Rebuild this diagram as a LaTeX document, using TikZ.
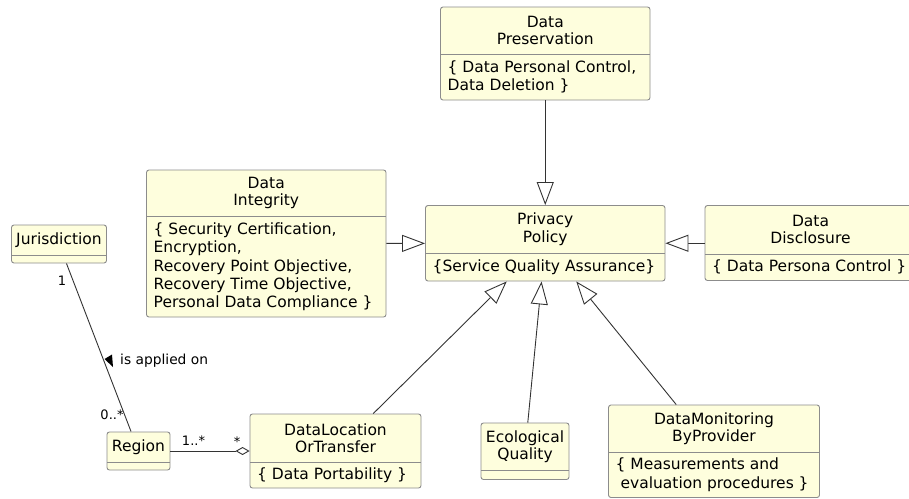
\documentclass[tikz,border=0pt]{standalone}
\usepackage{fontspec}
\setmainfont{DejaVu Sans}
\usepackage{tikz}
\usetikzlibrary{arrows.meta,fit}

\definecolor{classfill}{HTML}{FEFEDD}
\definecolor{classline}{HTML}{8C8C8C}
\definecolor{linkline}{HTML}{333333}

% #1 name, #2 left, #3 top, #4 right, #5 separator, #6 bottom, #7 title, #8 attributes
\newcommand{\umlclass}[8]{%
  \node[classbox, fit={(#2,#3) (#4,#6)}] (#1) {};
  \draw[sepline] (#2,#5) -- (#4,#5);
  \node[titletext] (#1-title) at ({(#2+#4)/2},{(#3+#5)/2}) {#7};
  \node[attrtext] (#1-attr) at ({#2+7},{(#5+#6)/2}) {#8};
}

\begin{document}
\begin{tikzpicture}[x=1pt, y=-1pt,
  classbox/.style={draw=classline, fill=classfill, rounded corners=2.5pt, inner sep=0pt, line width=0.9pt},
  sepline/.style={draw=classline, line width=0.9pt},
  titletext/.style={inner sep=0pt, align=center, font=\fontsize{15.5}{17.3}\selectfont},
  attrtext/.style={inner sep=0pt, anchor=west, align=left, font=\fontsize{15.5}{18.3}\selectfont},
  gen/.style={draw=linkline, line width=0.9pt, -{Triangle[fill=white, length=23pt, width=17pt]}},
  assoc/.style={draw=linkline, line width=0.9pt},
  agg/.style={draw=linkline, line width=0.9pt, -{Diamond[fill=white, length=14pt, width=8pt]}},
  mult/.style={inner sep=0pt, font=\fontsize{13}{15}\selectfont}
]
\useasboundingbox (0,0) rectangle (909,498);

% classes
\umlclass{pres}{440.5}{7}{650}{54}{100}{Data\\Preservation}{\{ Data Personal Control,\\Data Deletion \}}
\umlclass{priv}{425.5}{205.5}{665}{253}{281}{Privacy\\Policy}{\{Service Quality Assurance\}}
\umlclass{integ}{146.5}{170}{386}{216.5}{317}{Data\\Integrity}{\{ Security Certification,\\Encryption,\\Recovery Point Objective,\\Recovery Time Objective,\\Personal Data Compliance \}}
\umlclass{discl}{705}{205.5}{916}{254}{280.5}{Data\\Disclosure}{\{ Data Persona Control \}}
\umlclass{juris}{11.5}{225}{106.5}{255}{263}{Jurisdiction}{}
\umlclass{region}{107}{432}{170}{462}{470}{Region}{}
\umlclass{loc}{250}{414}{421}{462}{488}{DataLocation\\OrTransfer}{\{ Data Portability \}}
\umlclass{eco}{481}{423}{569}{470}{479.5}{Ecological\\Quality}{}
\umlclass{monit}{608.5}{405}{819.5}{452}{497.5}{DataMonitoring\\ByProvider}{\{ Measurements and\\\ evaluation procedures \}}

% generalisations
\draw[gen] (pres) -- (priv);
\draw[gen] (integ) -- (priv);
\draw[gen] (discl.west |- priv.east) -- (priv);
\draw[gen] (loc) -- (priv);
\draw[gen] (eco) -- (priv);
\draw[gen] (monit) -- (priv);

% associations
\draw[assoc] (juris) -- (region);
\draw[agg] (region) -- (loc);

% labels
\node[mult] (m1) at (62,281) {1};
\node[mult] (m2) at (112,415) {0..*};
\node[mult] (m3) at (193.5,441) {1..*};
\node[mult] (m4) at (237,442) {*};
\fill[black] (104.5,359) -- (112,354.5) -- (113,367) -- cycle;
\node[mult, anchor=west, font=\fontsize{13.8}{15}\selectfont] (applied) at (120,361) {is applied on};
\end{tikzpicture}
\end{document}
